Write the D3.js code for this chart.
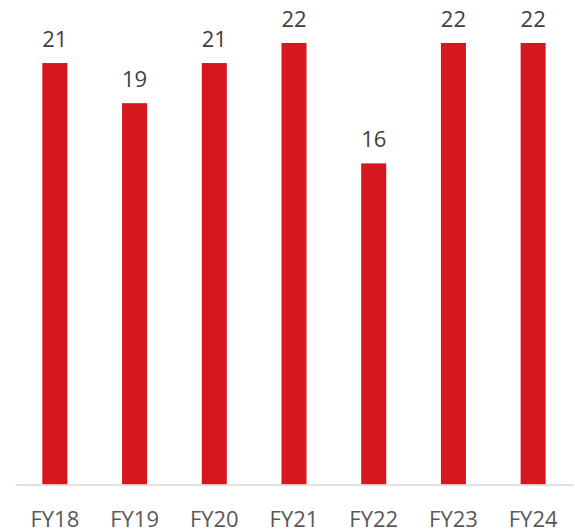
<!DOCTYPE html>
<html lang="en">
<head>
    <meta charset="UTF-8">
    <title>FY bars</title>
    <script src="https://d3js.org/d3.v7.min.js"></script>
    <style>
        body { margin: 0; background: #fff; }
        .val { font-family: "Open Sans", sans-serif; font-size: 22px; fill: #404040; }
        .cat { font-family: "Open Sans", sans-serif; font-size: 22px; fill: #595959; }
    </style>
</head>
<body>
    <div id="chart"></div>
    <script>
        var years = ["FY18", "FY19", "FY20", "FY21", "FY22", "FY23", "FY24"];
        var values = [21, 19, 21, 22, 16, 22, 22];

        var width = 575, height = 531;
        var baseY = 484.5;

        var svg = d3.select("#chart")
            .append("svg")
            .attr("width", width)
            .attr("height", height);

        var x = d3.scaleBand()
            .domain(years)
            .range([15, 573])
            .paddingInner(0.686)
            .paddingOuter(0.343);

        var y = d3.scaleLinear()
            .domain([0, 24])
            .range([baseY, baseY - 24 * 20.07]);

        // bars
        svg.selectAll("rect.bar")
            .data(values)
            .enter()
            .append("rect")
            .attr("class", "bar")
            .attr("x", (d, i) => x(years[i]))
            .attr("y", d => y(d))
            .attr("width", x.bandwidth())
            .attr("height", d => baseY - y(d))
            .attr("fill", "#d7171f");

        // value labels
        svg.selectAll("text.val")
            .data(values)
            .enter()
            .append("text")
            .attr("class", "val")
            .attr("x", (d, i) => x(years[i]) + x.bandwidth() / 2)
            .attr("y", d => y(d) - 16)
            .attr("text-anchor", "middle")
            .text(d => d);

        // axis line
        var axis = svg.append("g")
            .attr("transform", "translate(0," + baseY + ")")
            .call(d3.axisBottom(x).tickSize(0).tickPadding(0));
        axis.select(".domain").attr("stroke", "#d9d9d9").attr("stroke-width", 1.5);
        axis.selectAll(".tick text")
            .attr("class", "cat")
            .attr("fill", null)
            .attr("dy", null)
            .attr("y", 42)
            .style("font-size", null)
            .style("font-family", null);
        axis.attr("font-size", null).attr("font-family", null);
    </script>
</body>
</html>
